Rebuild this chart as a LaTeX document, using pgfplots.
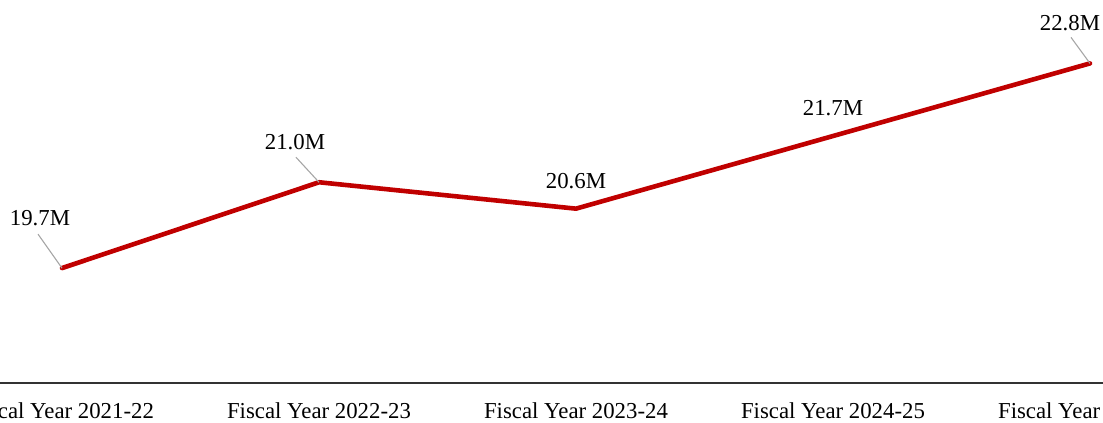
\documentclass[border=0pt]{standalone}
\usepackage{fontspec}
\setmainfont{Liberation Serif}
\usepackage{pgfplots}
\pgfplotsset{compat=1.18}
\definecolor{linered}{HTML}{C00000}
\definecolor{leader}{HTML}{A6A6A6}
\begin{document}
\fontsize{11.4pt}{13.7pt}\selectfont
\begin{tikzpicture}[font=\fontsize{11.4pt}{13.7pt}\selectfont]
\begin{axis}[
  scale only axis, width=591.1pt, height=191.5pt,
  xmin=-0.3, xmax=4.3, ymin=17.96, ymax=23.76,
  axis x line=bottom, axis y line=none,
  axis line style={-, black!80, line width=0.7pt},
  xtick={0,1,2,3,4},
  xticklabels={Fiscal Year 2021-22, Fiscal Year 2022-23, Fiscal Year 2023-24, Fiscal Year 2024-25, Fiscal Year 2025-26},
  major tick length=0pt, xtick style={draw=none},
  xticklabel style={yshift=-6pt},
  ytick=\empty,
  clip=false,
]
\addplot[linered, line width=2.3pt, line cap=round, line join=round, mark=none]
  coordinates {(0,19.7) (1,21.0) (2,20.6) (3,21.7) (4,22.8)};
% leader lines
\draw[leader, line width=0.55pt] (axis cs:0,19.7) -- ++(-12pt,17pt);
\draw[leader, line width=0.55pt] (axis cs:1,21.0) -- ++(-11.5pt,12.5pt);
\draw[leader, line width=0.55pt] (axis cs:4,22.8) -- ++(-9.5pt,13pt);
% labels
\node at ([xshift=-11pt,yshift=25pt]axis cs:0,19.7) {19.7M};
\node at ([xshift=-12pt,yshift=20pt]axis cs:1,21.0) {21.0M};
\node at ([xshift=0pt,yshift=14pt]axis cs:2,20.6) {20.6M};
\node at ([xshift=0pt,yshift=14pt]axis cs:3,21.7) {21.7M};
\node at ([xshift=-10pt,yshift=20pt]axis cs:4,22.8) {22.8M};
\coordinate (bbA) at (axis cs:-0.2412,17.369);
\coordinate (bbB) at (axis cs:4.0506,23.76);
\end{axis}
\pgfresetboundingbox
\useasboundingbox (bbA) rectangle (bbB);
\end{tikzpicture}
\end{document}
